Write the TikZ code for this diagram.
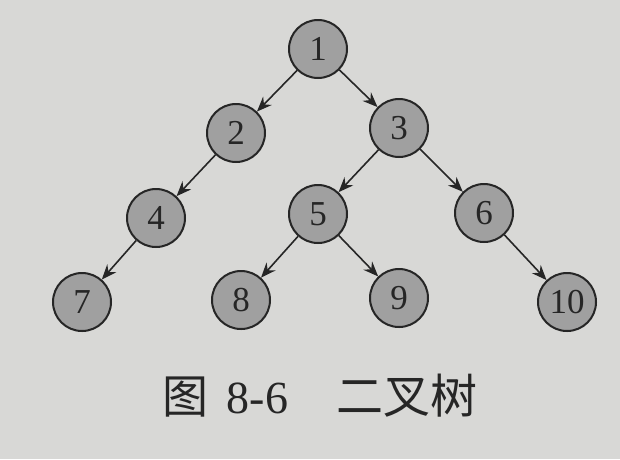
\documentclass[tikz,border=0pt]{standalone}
\usepackage{fontspec}
\setmainfont{Liberation Serif}
\newfontfamily\cjk{Noto Sans CJK SC}
\usetikzlibrary{arrows.meta}
\definecolor{paper}{HTML}{D8D8D6}
\definecolor{nodefill}{HTML}{A0A0A0}
\definecolor{ink}{HTML}{262626}
\begin{document}
\begin{tikzpicture}[x=1pt,y=-1pt,
  tnode/.style={circle,draw=ink,line width=2pt,fill=nodefill,minimum size=58pt,inner sep=0pt,
    font=\fontsize{35}{35}\selectfont,text=ink},
  edge/.style={draw=ink,line width=1.6pt,-{Stealth[length=15pt,width=12pt,inset=5pt]}}]
\fill[paper] (0,0) rectangle (620,459);
\useasboundingbox (0,0) rectangle (620,459);
\node[tnode] (n1) at (318,49) {1};
\node[tnode] (n2) at (236,133) {2};
\node[tnode] (n3) at (399,128) {3};
\node[tnode] (n4) at (156,218) {4};
\node[tnode] (n5) at (318,214) {5};
\node[tnode] (n6) at (484,213) {6};
\node[tnode] (n7) at (82,302) {7};
\node[tnode] (n8) at (241,300) {8};
\node[tnode] (n9) at (399,298) {9};
\node[tnode] (n10) at (567,302) {10};
\draw[edge] (n1) -- (n2);
\draw[edge] (n1) -- (n3);
\draw[edge] (n2) -- (n4);
\draw[edge] (n3) -- (n5);
\draw[edge] (n3) -- (n6);
\draw[edge] (n4) -- (n7);
\draw[edge] (n5) -- (n8);
\draw[edge] (n5) -- (n9);
\draw[edge] (n6) -- (n10);
\node[text=ink,font=\fontsize{46}{46}\selectfont,inner sep=0pt] (cap) at (320,396)
  {{\cjk\fontsize{46}{46}\selectfont 图}\hspace{18pt}8-6\hspace{48pt}{\cjk\fontsize{47}{47}\selectfont 二叉树}};
\end{tikzpicture}
\end{document}
